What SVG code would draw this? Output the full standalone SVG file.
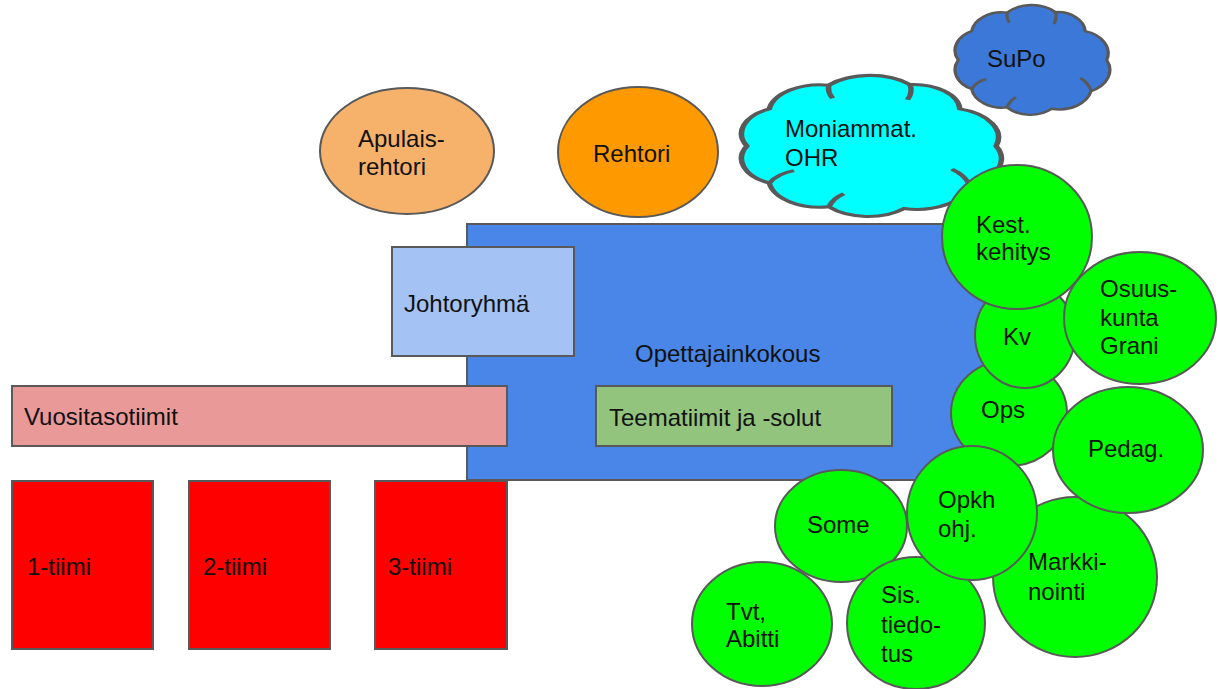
<svg xmlns="http://www.w3.org/2000/svg" xmlns:xlink="http://www.w3.org/1999/xlink" width="1218" height="689" viewBox="0 0 1218 689">
<style>
  .s { stroke: #595959; stroke-width: 2; }
  .t { font-family: "Liberation Sans", Arial, sans-serif; font-size: 24px; fill: #111; }
  .g { fill: #00ff00; }
  .cl { vector-effect: non-scaling-stroke; stroke: #595959; stroke-width: 2; }
  .in { vector-effect: non-scaling-stroke; stroke: #595959; stroke-width: 2; fill: none; }
</style>
<defs>
  <path id="cloud" d="M95,50 A19.3,19.3 0 0,1 85.5,75.9 A19.6,19.6 0 0,1 61.7,90.6 A19,19 0 0,1 34.6,89.5 A18.5,18.5 0 0,1 13.1,74.1 A17.8,17.8 0 0,1 5,50 A17.8,17.8 0 0,1 13.1,25.9 A18.5,18.5 0 0,1 34.6,10.5 A20.5,20.5 0 0,1 63.9,10.1 A16.8,16.8 0 0,1 81.9,25.9 A19.2,19.2 0 0,1 95,50 Z"/>
  <path id="cloudin" d="M13.1,74.1 Q16,68 22,66 M85.5,75.9 Q84,69 79,65 M63.9,10.1 Q65,15 63,20 M34.6,89.5 Q36,84 40,81 M34.6,10.5 Q34,15 36,19"/>
</defs>
<rect width="1218" height="689" fill="#ffffff"/>
<g id="connectors"/>

<g id="opettajainkokous">
  <rect class="s" x="467" y="224" width="520" height="256" fill="#4a86e8"/>
  <text class="t" x="635" y="362">Opettajainkokous</text>
</g>
<g id="johtoryhma">
  <rect class="s" x="392" y="247" width="182" height="109" fill="#a4c2f4"/>
  <text class="t" x="404" y="312">Johtoryhmä</text>
</g>
<g id="vuositasotiimit">
  <rect class="s" x="12" y="386" width="495" height="60" fill="#ea9999"/>
  <text class="t" x="24" y="425">Vuositasotiimit</text>
</g>
<g id="teematiimit">
  <rect class="s" x="596" y="386" width="296" height="60" fill="#93c47d"/>
  <text class="t" x="609" y="426">Teematiimit ja -solut</text>
</g>
<g id="tiimi1">
  <rect class="s" x="12" y="481" width="141" height="168" fill="#ff0000"/>
  <text class="t" x="27" y="575">1-tiimi</text>
</g>
<g id="tiimi2">
  <rect class="s" x="189" y="481" width="141" height="168" fill="#ff0000"/>
  <text class="t" x="203" y="575">2-tiimi</text>
</g>
<g id="tiimi3">
  <rect class="s" x="375" y="481" width="132" height="168" fill="#ff0000"/>
  <text class="t" x="388" y="575">3-tiimi</text>
</g>

<g id="apulaisrehtori">
  <ellipse class="s" cx="407" cy="151" rx="87" ry="63" fill="#f6b26b"/>
  <text class="t" x="358" y="147">Apulais-</text>
  <text class="t" x="358" y="175">rehtori</text>
</g>
<g id="rehtori">
  <ellipse class="s" cx="638" cy="152" rx="80" ry="65" fill="#ff9900"/>
  <text class="t" x="593" y="162">Rehtori</text>
</g>

<g id="moniammat">
  <use xlink:href="#cloud" class="cl" fill="#00ffff" transform="translate(733,69) scale(2.77,1.54)"/>
  <use xlink:href="#cloudin" class="in" transform="translate(733,69) scale(2.77,1.54)"/>
  <text class="t" x="785" y="137">Moniammat.</text>
  <text class="t" x="785" y="166">OHR</text>
</g>
<g id="supo">
  <use xlink:href="#cloud" class="cl" fill="#3c78d8" transform="translate(950,0) scale(1.65,1.2)"/>
  <use xlink:href="#cloudin" class="in" transform="translate(950,0) scale(1.65,1.2)"/>
  <text class="t" x="987" y="67">SuPo</text>
</g>

<g id="ops">
  <ellipse class="s g" cx="1009" cy="413" rx="58" ry="53"/>
  <text class="t" x="981" y="418">Ops</text>
</g>
<g id="kv">
  <ellipse class="s g" cx="1025" cy="335" rx="50" ry="53"/>
  <text class="t" x="1003" y="345">Kv</text>
</g>
<g id="kest">
  <ellipse class="s g" cx="1017" cy="237" rx="75" ry="72"/>
  <text class="t" x="976" y="233">Kest.</text>
  <text class="t" x="976" y="260">kehitys</text>
</g>
<g id="osuuskunta">
  <ellipse class="s g" cx="1140" cy="318" rx="76" ry="66"/>
  <text class="t" x="1100" y="297">Osuus-</text>
  <text class="t" x="1100" y="326">kunta</text>
  <text class="t" x="1100" y="354">Grani</text>
</g>
<g id="markkinointi">
  <ellipse class="s g" cx="1075" cy="577" rx="82" ry="80"/>
  <text class="t" x="1028" y="570">Markki-</text>
  <text class="t" x="1028" y="600">nointi</text>
</g>
<g id="pedag">
  <ellipse class="s g" cx="1128" cy="450" rx="75" ry="63"/>
  <text class="t" x="1088" y="457">Pedag.</text>
</g>
<g id="some">
  <ellipse class="s g" cx="841" cy="526" rx="66" ry="56"/>
  <text class="t" x="807" y="533">Some</text>
</g>
<g id="tvt">
  <ellipse class="s g" cx="762" cy="624" rx="70" ry="62"/>
  <text class="t" x="726" y="620">Tvt,</text>
  <text class="t" x="726" y="647">Abitti</text>
</g>
<g id="sistiedotus">
  <ellipse class="s g" cx="916" cy="623" rx="69" ry="66"/>
  <text class="t" x="881" y="603">Sis.</text>
  <text class="t" x="881" y="633">tiedo-</text>
  <text class="t" x="881" y="662">tus</text>
</g>
<g id="opkh">
  <ellipse class="s g" cx="972" cy="513" rx="65" ry="67"/>
  <text class="t" x="938" y="508">Opkh</text>
  <text class="t" x="938" y="537">ohj.</text>
</g>
</svg>
